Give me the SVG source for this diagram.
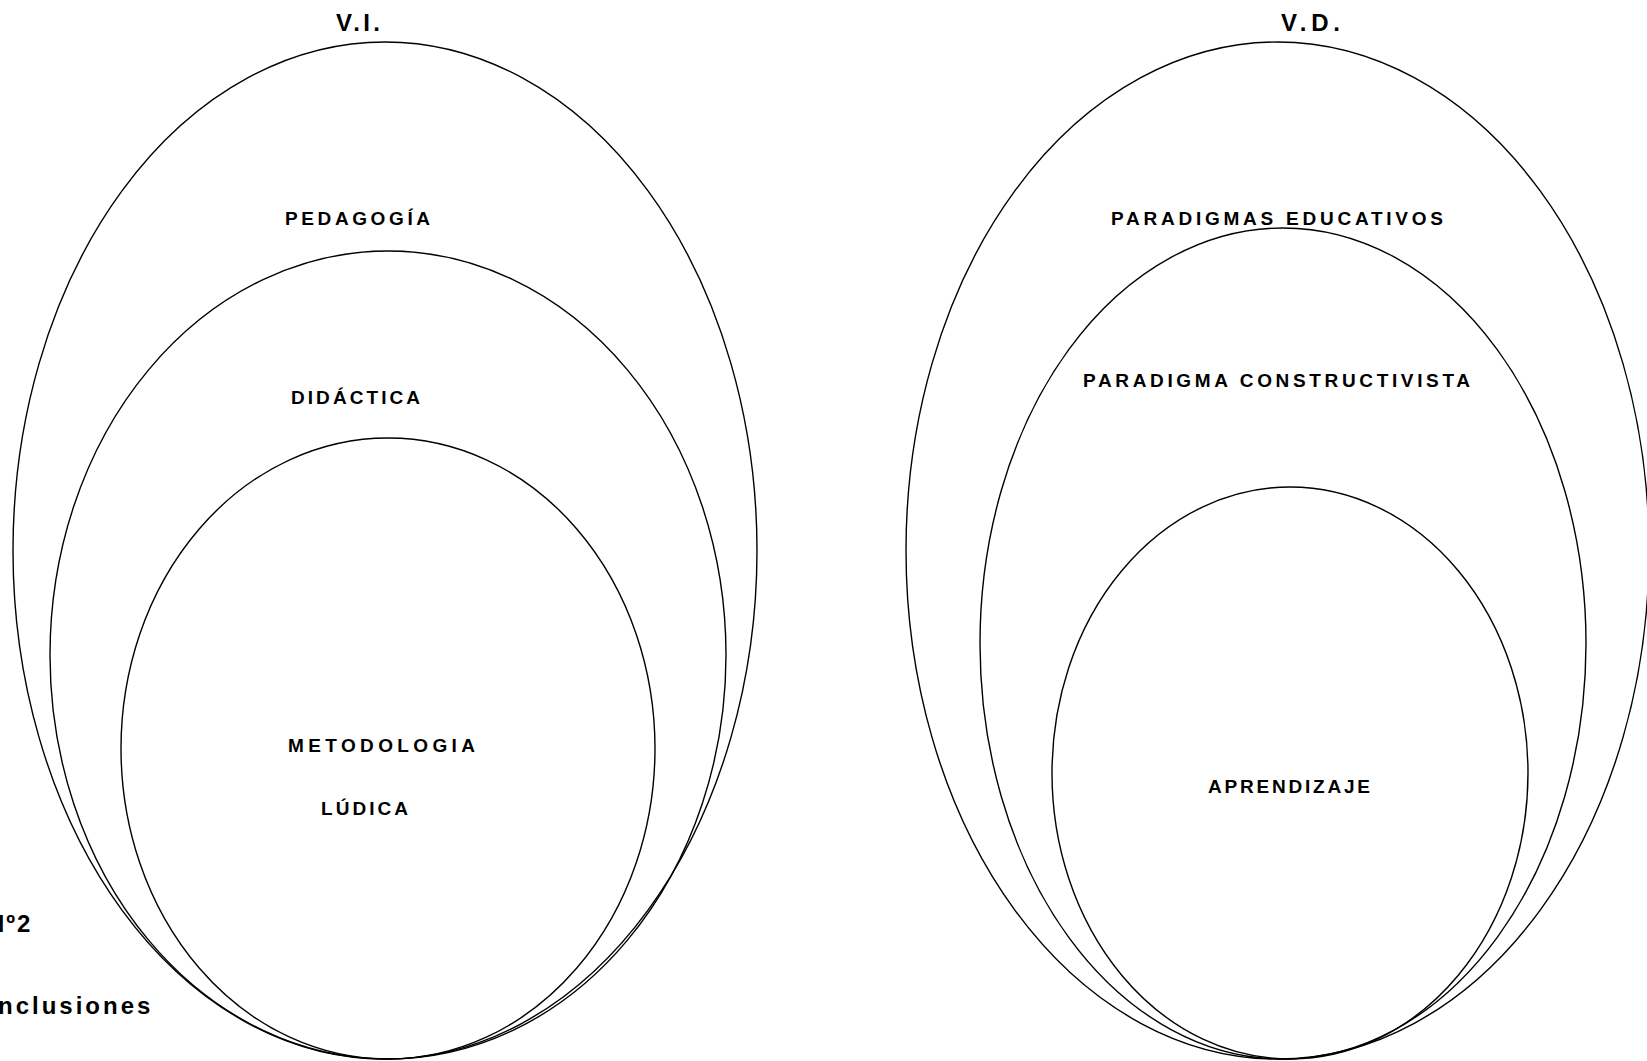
<svg xmlns="http://www.w3.org/2000/svg" width="1647" height="1061" viewBox="0 0 1647 1061">
  <style>
    .ring { fill: none; stroke: #000; stroke-width: 1.4; }
    .lbl { font-family: "Liberation Sans", Arial, sans-serif; font-weight: bold; font-size: 19px; fill: #000; }
    .ttl { font-family: "Liberation Sans", Arial, sans-serif; font-weight: bold; font-size: 24px; fill: #000; }
    .side { font-family: "Liberation Sans", Arial, sans-serif; font-weight: bold; font-size: 24px; fill: #000; }
  </style>
  <rect width="1647" height="1061" fill="#fff"/>

  <g id="vi-title">
    <text class="ttl" x="336" y="31" textLength="44" lengthAdjust="spacing">V.I.</text>
  </g>
  <g id="pedagogia">
    <ellipse class="ring" cx="385" cy="550.5" rx="372" ry="508.5"/>
    <text class="lbl" x="285" y="225" textLength="145" lengthAdjust="spacing">PEDAGOGÍA</text>
  </g>
  <g id="didactica">
    <ellipse class="ring" cx="388" cy="655" rx="338" ry="404"/>
    <text class="lbl" x="291" y="404" textLength="129" lengthAdjust="spacing">DIDÁCTICA</text>
  </g>
  <g id="metodologia-ludica">
    <ellipse class="ring" cx="388" cy="748.5" rx="267" ry="310.5"/>
    <text class="lbl" x="288" y="752" textLength="187" lengthAdjust="spacing">METODOLOGIA</text>
    <text class="lbl" x="321" y="815" textLength="87" lengthAdjust="spacing">LÚDICA</text>
  </g>

  <g id="vd-title">
    <text class="ttl" x="1281" y="31" textLength="59" lengthAdjust="spacing">V.D.</text>
  </g>
  <g id="paradigmas-educativos">
    <ellipse class="ring" cx="1277.5" cy="550.5" rx="371.5" ry="508.5"/>
    <text class="lbl" x="1111" y="225" textLength="332" lengthAdjust="spacing">PARADIGMAS EDUCATIVOS</text>
  </g>
  <g id="paradigma-constructivista">
    <ellipse class="ring" cx="1283" cy="643.5" rx="303" ry="415.5"/>
    <text class="lbl" x="1083" y="387" textLength="387" lengthAdjust="spacing">PARADIGMA CONSTRUCTIVISTA</text>
  </g>
  <g id="aprendizaje">
    <ellipse class="ring" cx="1290" cy="773" rx="238" ry="286"/>
    <text class="lbl" x="1208" y="793" textLength="162" lengthAdjust="spacing">APRENDIZAJE</text>
  </g>

  <g id="side-notes">
    <text class="side" x="-13" y="932" letter-spacing="2">Nº2</text>
    <text class="side" x="-40" y="1014" letter-spacing="3">Conclusiones</text>
  </g>

  <g id="connectors"/>
</svg>
